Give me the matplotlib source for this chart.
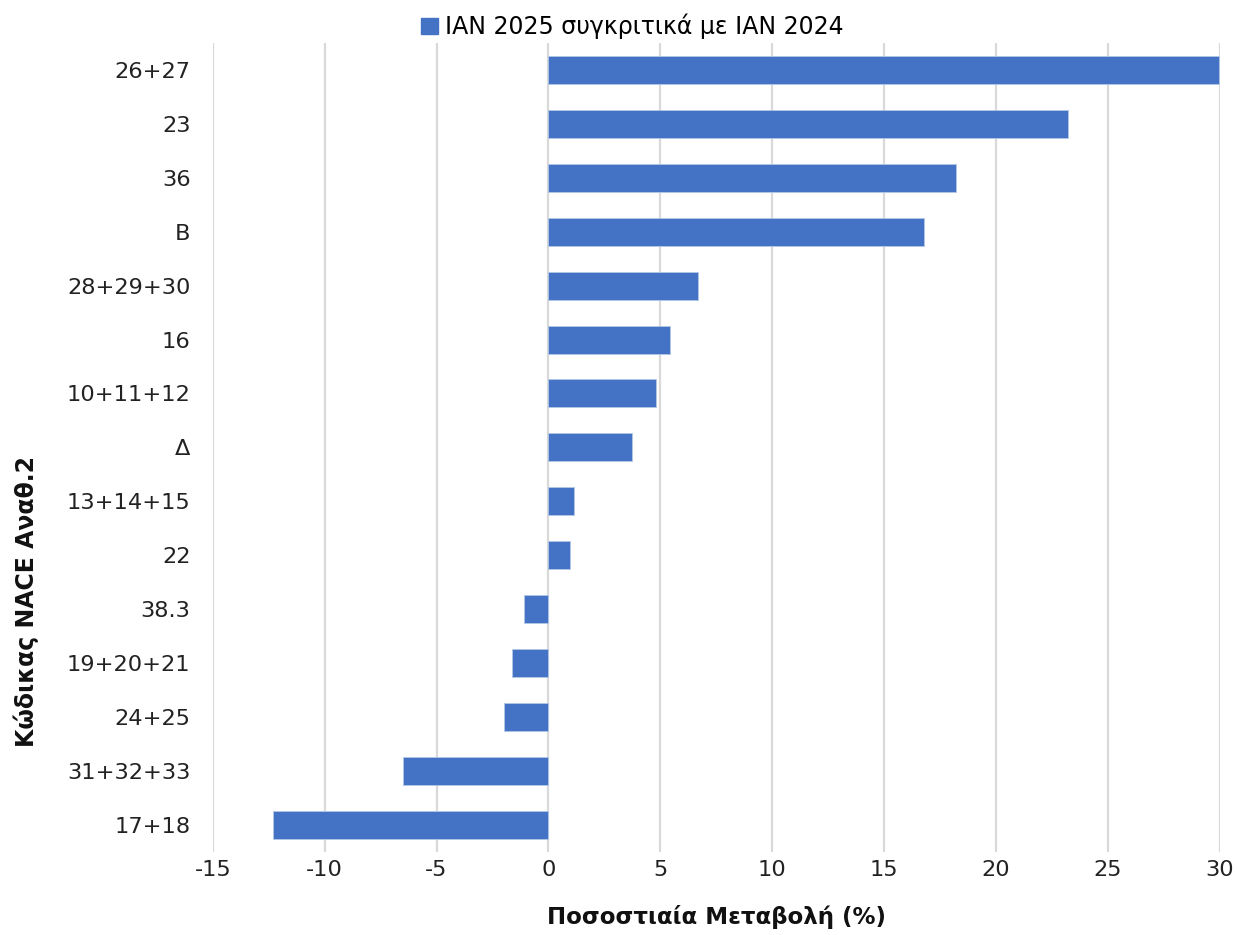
import matplotlib
matplotlib.use("Agg")
import matplotlib.pyplot as plt
from matplotlib.patches import Patch

# NACE codes, top to bottom as shown in the chart
categories = ["26+27", "23", "36", "B", "28+29+30", "16", "10+11+12", "Δ",
              "13+14+15", "22", "38.3", "19+20+21", "24+25", "31+32+33", "17+18"]
# percentage change, JAN 2025 vs JAN 2024
values = [29.95, 23.2, 18.2, 16.8, 6.7, 5.45, 4.8, 3.75,
          1.15, 0.95, -1.1, -1.62, -2.0, -6.5, -12.3]
xticks = [-15, -10, -5, 0, 5, 10, 15, 20, 25, 30]

series_name = "ΙΑΝ 2025 συγκριτικά με ΙΑΝ 2024"
bar_color = "#4472C4"

plt.rcParams["font.family"] = ["DejaVu Sans"]

fig = plt.figure(figsize=(12.37, 9.35), dpi=100)
ax = fig.add_axes([0.172, 0.089, 0.814, 0.865])

pos = range(len(categories))
ax.barh(pos, values, height=0.52, color=bar_color, edgecolor="#B4C7E7",
        linewidth=0.6, zorder=3)

ax.set_ylim(len(categories) - 0.5, -0.5)
ax.set_yticks(list(pos))
ax.set_yticklabels(categories, fontsize=16.2, color="#222222")
ax.set_xlim(-15, 30)
ax.set_xticks(xticks)
ax.set_xticklabels([str(t) for t in xticks], fontsize=16.2, color="#222222")
ax.tick_params(axis="x", length=0, pad=6)
ax.tick_params(axis="y", length=0, pad=16)

ax.grid(axis="x", color="#D9D9D9", linewidth=1.6, zorder=0)
for s in ax.spines.values():
    s.set_visible(False)

ax.set_xlabel("Ποσοστιαία Μεταβολή (%)", fontsize=16.5, fontweight="bold",
              labelpad=18, color="#111111")
ax.set_ylabel("Κώδικας NACE Αναθ.2", fontsize=17, fontweight="bold",
              color="#111111")
ax.yaxis.set_label_coords(-0.173, 0.31)

handle = Patch(facecolor=bar_color, edgecolor=bar_color)
fig.legend([handle], [series_name], loc="upper center",
           bbox_to_anchor=(0.511, 1.008), frameon=False, fontsize=17,
           handlelength=0.7, handleheight=0.7, handletextpad=0.3)

fig.savefig("out.png", dpi=100)
